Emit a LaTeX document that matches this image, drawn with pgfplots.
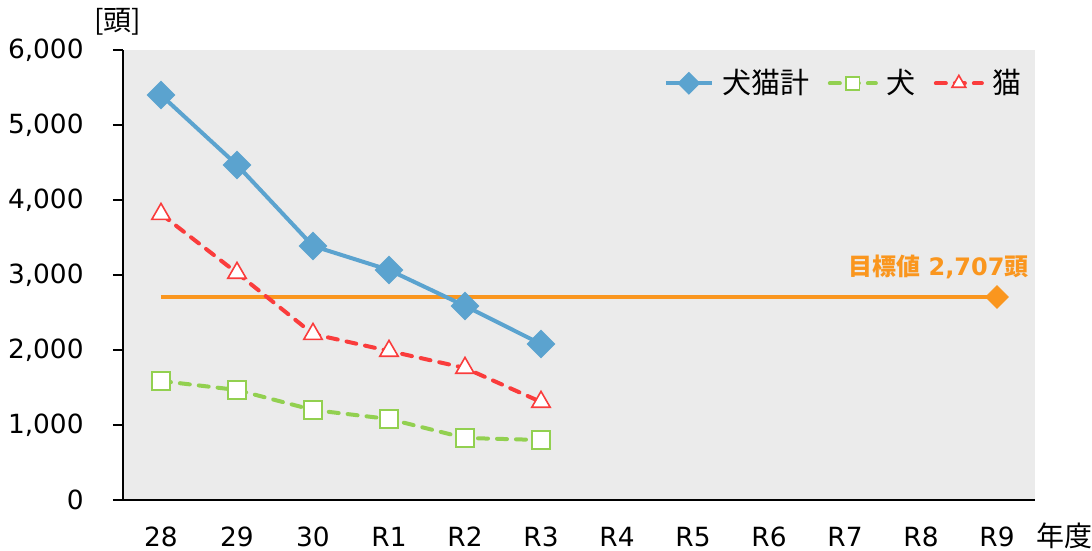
\documentclass[border=0pt]{standalone}
\usepackage{fontspec}
\setmainfont{DejaVu Sans}
\newfontfamily\cjk{Noto Sans CJK JP}
\usepackage{pgfplots}
\pgfplotsset{compat=1.18}
\definecolor{cblue}{RGB}{91,163,207}
\definecolor{cgreen}{RGB}{146,208,80}
\definecolor{cred}{RGB}{250,60,60}
\definecolor{corange}{RGB}{250,150,30}
\definecolor{cbg}{RGB}{235,235,235}
\begin{document}
\begin{tikzpicture}
\useasboundingbox (-61.5pt,-25.5pt) rectangle (484.5pt,250pt);
\begin{axis}[
  scale only axis,
  width=456pt, height=225pt,
  xmin=-0.5, xmax=11.5, ymin=0, ymax=6000,
  axis background/.style={fill=cbg},
  axis x line*=bottom, axis y line*=left,
  x axis line style={-, line width=1.2pt},
  y axis line style={-, line width=1.2pt},
  xtick={0,...,11},
  xticklabels={28,29,30,R1,R2,R3,R4,R5,R6,R7,R8,R9},
  xtick style={draw=none},
  ytick={0,1000,...,6000},
  tick align=outside,
  major tick length=5pt,
  ytick style={line width=1.2pt, black},
  /pgf/number format/assume math mode=true,
  /pgf/number format/1000 sep={,},
  tick label style={font=\fontsize{13.2}{15}\selectfont},
  yticklabel style={anchor=east, inner sep=0pt, xshift=-14.5pt},
  xticklabel style={anchor=base, inner sep=0pt, yshift=-18.5pt},
  clip=false,
  legend style={at={(rel axis cs:0.997,0.975)}, anchor=north east, draw=none, fill=none,
     font=\fontsize{14.5}{16}\selectfont\cjk, legend columns=3,
     /tikz/every even column/.append style={column sep=7pt},
     /tikz/every odd column/.append style={column sep=0pt}},
  legend cell align=left,
  legend image code/.code={\draw[mark repeat=2,mark phase=2, every mark/.append style={scale=0.75}] plot coordinates {(0pt,0pt) (11.5pt,0pt) (23pt,0pt)};},
]
% target line
\addplot[corange, line width=2pt, mark=none, forget plot] coordinates {(0,2707) (11,2707)};
\addplot[corange, only marks, mark=square*, mark size=4pt, mark options={rotate=45, fill=corange, draw=corange}, forget plot] coordinates {(11,2707)};
% totals
\addplot[cblue, line width=2pt, mark=square*, mark size=4.1pt, mark options={rotate=45, fill=cblue}] coordinates {
 (0,5400) (1,4467) (2,3387) (3,3067) (4,2587) (5,2080)};
\addlegendentry{\hspace{2.5pt}犬猫計}
% dogs
\addplot[cgreen, line width=2pt, dash pattern=on 5pt off 4.5pt, line cap=round, mark=square*, mark size=4.4pt, mark options={solid, fill=white, line width=0.8pt}] coordinates {
 (0,1587) (1,1467) (2,1200) (3,1080) (4,827) (5,800)};
\addlegendentry{\hspace{2.5pt}犬}
% cats
\addplot[cred, line width=2pt, dash pattern=on 5pt off 4.5pt, line cap=round, mark=triangle*, mark size=5.3pt, mark options={solid, fill=white, line width=0.8pt}] coordinates {
 (0,3813) (1,3027) (2,2213) (3,1987) (4,1760) (5,1307)};
\addlegendentry{\hspace{2.5pt}猫}
\node[anchor=east, inner sep=0pt, text=corange, font=\fontsize{12}{14}\selectfont\bfseries] at (axis cs:11.42,3107) {{\cjk\bfseries 目標値} 2,707{\cjk\bfseries 頭}};
\node[inner sep=0pt, font=\fontsize{14}{16}\selectfont\cjk] at ([xshift=-2.5pt, yshift=14pt]rel axis cs:0,1) {[頭]};
\node[anchor=base west, inner sep=0pt, font=\fontsize{14}{16}\selectfont\cjk] at ([xshift=0.5pt, yshift=-23.5pt]rel axis cs:1,0) {年度};
\end{axis}
\end{tikzpicture}
\end{document}
